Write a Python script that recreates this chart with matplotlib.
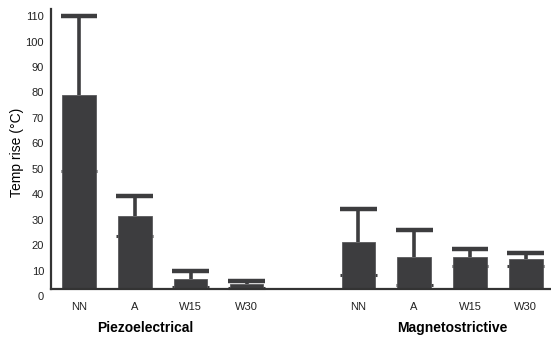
import matplotlib.pyplot as plt
import numpy as np

plt.rcParams['font.family'] = ['Liberation Sans', 'DejaVu Sans']

# data
conditions = ['NN', 'A', 'W15', 'W30']
groups = ['Piezoelectrical', 'Magnetostrictive']
piezo_mean = [79, 31.4, 6.5, 4.6]
piezo_upper = [110, 39.2, 10, 6.0]
piezo_lower = [49, 23.6, 3.6, 3.0]
magneto_mean = [21.2, 15.2, 15.2, 14.4]
magneto_upper = [34, 25.9, 18.6, 16.9]
magneto_lower = [8.4, 4.4, 11.8, 11.6]

base = 2.75
col = '#3d3d3f'

x_p = np.arange(4)
x_m = np.arange(4) + 5
xs = np.concatenate([x_p, x_m])
means = np.array(piezo_mean + magneto_mean)
upper = np.array(piezo_upper + magneto_upper)
lower = np.array(piezo_lower + magneto_lower)

fig = plt.figure(figsize=(5.51, 3.39), dpi=100)
ax = fig.add_axes([0.0926, 0.1268, 0.9074, 0.8467])

ax.bar(xs, means - base, bottom=base, width=0.6, color=col,
       edgecolor='#5a5a5c', linewidth=0.6, zorder=2)
# upper error (line + cap)
ax.vlines(xs, means, upper, color=col, linewidth=2.6, zorder=3)
ax.hlines(upper, xs - 0.33, xs + 0.33, color=col, linewidth=3.2, zorder=3)
# lower cap marks
ax.hlines(lower, xs - 0.33, xs + 0.33, color=col, linewidth=2.2, zorder=1.5)

ax.set_xlim(-0.5, 8.45)
ax.set_ylim(0, 112.8)
ax.set_yticks(np.arange(0, 111, 10))
ax.set_xticks(xs)
ax.set_xticklabels(conditions + conditions)
ax.tick_params(axis='both', length=0, labelsize=8, colors='#222222', pad=5)
ax.tick_params(axis='x', pad=9)

for s in ['top', 'right']:
    ax.spines[s].set_visible(False)
ax.spines['bottom'].set_position(('data', base))
ax.spines['left'].set_bounds(base, 112.8)
ax.spines['left'].set_linewidth(1.6)
ax.spines['bottom'].set_linewidth(1.6)
ax.spines['left'].set_color('#333333')
ax.spines['bottom'].set_color('#333333')

ax.set_ylabel('Temp rise (°C)', fontsize=10, labelpad=1)

ax.text(1.18, -0.113, groups[0], transform=ax.get_xaxis_transform(),
        ha='center', va='center', fontsize=10, fontweight='bold')
ax.text(6.68, -0.113, groups[1], transform=ax.get_xaxis_transform(),
        ha='center', va='center', fontsize=10, fontweight='bold')

fig.savefig('out.png', dpi=100)
